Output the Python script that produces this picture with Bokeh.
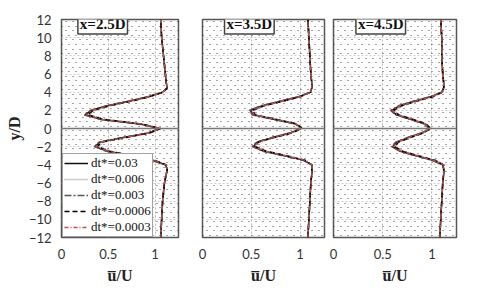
from bokeh.plotting import figure
from bokeh.models import Span, Label, Legend, LegendItem, FixedTicker, Grid
from bokeh.layouts import row
from bokeh.embed import file_html
from bokeh.resources import INLINE

# ---------------- data ----------------
y_d = [-12, -10, -8, -6, -5, -4.5, -4, -3.5, -3, -2.5, -2, -1.5, -1, -0.5, 0,
       0.5, 1, 1.5, 2, 2.5, 3, 3.5, 4, 4.5, 5, 6, 8, 10, 12]

dt_labels = ["dt*=0.03", "dt*=0.006", "dt*=0.003", "dt*=0.0006", "dt*=0.0003"]
panel_titles = ["x=2.5D", "x=3.5D", "x=4.5D"]
x_ticks = [0, 0.5, 1]
y_ticks = [-12, -10, -8, -6, -4, -2, 0, 2, 4, 6, 8, 10, 12]

# x = 2.5D
u25_a = [1.06, 1.07, 1.08, 1.10, 1.12, 1.13, 1.11, 0.97, 0.73, 0.49, 0.36, 0.41, 0.66, 0.93, 1.05,
         0.84, 0.43, 0.25, 0.32, 0.49, 0.72, 0.93, 1.08, 1.13, 1.12, 1.11, 1.09, 1.07, 1.06]
u25_b = [1.06, 1.07, 1.08, 1.10, 1.12, 1.13, 1.12, 1.00, 0.77, 0.53, 0.40, 0.44, 0.68, 0.94, 1.05,
         0.86, 0.47, 0.30, 0.36, 0.52, 0.75, 0.95, 1.09, 1.13, 1.12, 1.11, 1.09, 1.07, 1.06]
u25_c = [1.06, 1.07, 1.08, 1.10, 1.12, 1.13, 1.11, 0.96, 0.72, 0.48, 0.35, 0.40, 0.65, 0.92, 1.05,
         0.83, 0.42, 0.24, 0.31, 0.48, 0.71, 0.92, 1.08, 1.13, 1.12, 1.11, 1.09, 1.07, 1.06]
u25_d = [1.06, 1.07, 1.08, 1.10, 1.12, 1.13, 1.12, 0.99, 0.75, 0.51, 0.38, 0.43, 0.68, 0.94, 1.06,
         0.85, 0.45, 0.28, 0.34, 0.51, 0.74, 0.94, 1.09, 1.13, 1.12, 1.11, 1.09, 1.07, 1.06]
u25_e = [1.06, 1.07, 1.08, 1.10, 1.12, 1.13, 1.12, 0.98, 0.74, 0.50, 0.37, 0.42, 0.67, 0.93, 1.06,
         0.85, 0.44, 0.27, 0.33, 0.50, 0.73, 0.94, 1.08, 1.13, 1.12, 1.11, 1.09, 1.07, 1.06]

# x = 3.5D
u35_a = [1.08, 1.09, 1.10, 1.11, 1.12, 1.12, 1.12, 1.04, 0.84, 0.63, 0.52, 0.56, 0.72, 0.90, 1.01,
         0.96, 0.74, 0.52, 0.49, 0.61, 0.80, 0.99, 1.11, 1.12, 1.12, 1.11, 1.10, 1.09, 1.08]
u35_b = [1.08, 1.09, 1.10, 1.11, 1.12, 1.12, 1.12, 1.06, 0.87, 0.66, 0.55, 0.58, 0.74, 0.91, 1.01,
         0.97, 0.77, 0.55, 0.52, 0.64, 0.83, 1.01, 1.11, 1.12, 1.12, 1.11, 1.10, 1.09, 1.08]
u35_c = [1.08, 1.09, 1.10, 1.11, 1.12, 1.12, 1.12, 1.03, 0.83, 0.62, 0.51, 0.55, 0.71, 0.89, 1.00,
         0.95, 0.73, 0.51, 0.48, 0.60, 0.79, 0.98, 1.10, 1.12, 1.12, 1.11, 1.10, 1.09, 1.08]
u35_d = [1.08, 1.09, 1.10, 1.11, 1.12, 1.12, 1.12, 1.05, 0.86, 0.65, 0.54, 0.57, 0.73, 0.91, 1.02,
         0.97, 0.76, 0.54, 0.51, 0.63, 0.82, 1.00, 1.11, 1.12, 1.12, 1.11, 1.10, 1.09, 1.08]
u35_e = [1.08, 1.09, 1.10, 1.11, 1.12, 1.12, 1.12, 1.05, 0.85, 0.64, 0.53, 0.57, 0.73, 0.90, 1.01,
         0.96, 0.75, 0.53, 0.50, 0.62, 0.81, 1.00, 1.11, 1.12, 1.12, 1.11, 1.10, 1.09, 1.08]

# x = 4.5D
u45_a = [1.08, 1.09, 1.10, 1.11, 1.12, 1.12, 1.11, 1.01, 0.84, 0.68, 0.60, 0.64, 0.76, 0.90, 0.98,
         0.93, 0.79, 0.64, 0.59, 0.67, 0.82, 0.99, 1.10, 1.12, 1.12, 1.11, 1.10, 1.10, 1.09]
u45_b = [1.08, 1.09, 1.10, 1.11, 1.12, 1.12, 1.12, 1.04, 0.87, 0.71, 0.63, 0.66, 0.78, 0.91, 0.98,
         0.94, 0.81, 0.67, 0.62, 0.70, 0.85, 1.01, 1.11, 1.12, 1.12, 1.11, 1.10, 1.10, 1.09]
u45_c = [1.08, 1.09, 1.10, 1.11, 1.12, 1.12, 1.11, 1.00, 0.83, 0.67, 0.59, 0.63, 0.75, 0.89, 0.97,
         0.92, 0.78, 0.63, 0.58, 0.66, 0.81, 0.98, 1.10, 1.12, 1.12, 1.11, 1.10, 1.10, 1.09]
u45_d = [1.08, 1.09, 1.10, 1.11, 1.12, 1.12, 1.12, 1.03, 0.86, 0.70, 0.62, 0.66, 0.78, 0.91, 0.99,
         0.94, 0.81, 0.66, 0.61, 0.69, 0.84, 1.01, 1.11, 1.12, 1.12, 1.11, 1.10, 1.10, 1.09]
u45_e = [1.08, 1.09, 1.10, 1.11, 1.12, 1.12, 1.12, 1.02, 0.85, 0.69, 0.61, 0.65, 0.77, 0.90, 0.98,
         0.93, 0.80, 0.65, 0.60, 0.68, 0.83, 1.00, 1.11, 1.12, 1.12, 1.11, 1.10, 1.10, 1.09]

panel_series = [
    [u25_a, u25_b, u25_c, u25_d, u25_e],
    [u35_a, u35_b, u35_c, u35_d, u35_e],
    [u45_a, u45_b, u45_c, u45_d, u45_e],
]

# ---------------- styles ----------------
line_styles = [
    dict(line_color="#111111", line_dash="solid", line_width=1.5),
    dict(line_color="#9a9a9a", line_dash="1 1", line_width=1.5),
    dict(line_color="#555555", line_dash="7 2 2 2", line_width=1.5),
    dict(line_color="#000000", line_dash="5 3", line_width=1.5),
    dict(line_color="#cc4a4a", line_dash="4 2 1 2", line_width=1.3),
]

SERIF = "Liberation Serif"
SANS = "Lato"

# background dot texture rows (two staggered sets, in y/D units)
dot_rows_a = [k + 0.25 for k in range(-12, 12)]
dot_rows_b = [k + 0.75 for k in range(-12, 12)]

frame_widths = [117, 122, 123]
borders = [(61, 12), (12, 4), (5, 14)]
title_x = [0.44, 0.48, 0.48]

figs = []
for i in range(3):
    bl, br = borders[i]
    p = figure(frame_width=frame_widths[i], frame_height=218,
               x_range=(0, 1.25), y_range=(-12, 12),
               output_backend="svg", toolbar_location=None,
               min_border_left=bl, min_border_right=br,
               min_border_top=19, min_border_bottom=53,
               background_fill_color="white", border_fill_color="white")
    p.outline_line_color = "#555555"
    p.outline_line_width = 1.5

    # regular gridlines; minor ticks of the y grid carry the first row set of dots
    p.xgrid.ticker = FixedTicker(ticks=[0.5, 1])
    p.ygrid.ticker = FixedTicker(ticks=y_ticks, minor_ticks=dot_rows_a)
    p.xgrid.grid_line_color = "#b8b8b8"
    p.ygrid.grid_line_color = "#cfcfcf"
    p.xgrid.grid_line_dash = "2 2"
    p.ygrid.grid_line_dash = "2 2"
    p.ygrid.minor_grid_line_color = "#000000"
    p.ygrid.minor_grid_line_alpha = 0.7
    p.ygrid.minor_grid_line_width = 1.1
    p.ygrid.minor_grid_line_dash = "1 6"
    p.ygrid.minor_grid_line_dash_offset = 0

    g2 = Grid(dimension=1, ticker=FixedTicker(ticks=[0], minor_ticks=dot_rows_b),
              grid_line_color=None,
              minor_grid_line_color="#000000", minor_grid_line_alpha=0.7,
              minor_grid_line_width=1.1, minor_grid_line_dash="1 6",
              minor_grid_line_dash_offset=3)
    p.add_layout(g2)

    p.add_layout(Span(location=0, dimension="width", line_color="#777777", line_width=1.5))

    renderers = []
    for j, u in enumerate(panel_series[i]):
        r = p.line(x=u, y=y_d, **line_styles[j])
        renderers.append(r)

    # x axis
    p.xaxis.ticker = FixedTicker(ticks=x_ticks)
    p.xaxis.major_label_overrides = {0: "0", 0.5: "0.5", 1: "1"}
    p.xaxis.axis_line_color = None
    p.xaxis.major_tick_line_color = None
    p.xaxis.minor_tick_line_color = None
    p.xaxis.major_tick_out = 0
    p.xaxis.major_tick_in = 0
    p.xaxis.minor_tick_out = 0
    p.xaxis.major_label_standoff = 11
    p.xaxis.major_label_text_font = SANS
    p.xaxis.major_label_text_font_size = "13px"
    p.xaxis.major_label_text_color = "#333333"
    p.xaxis.axis_label = "u\u0305/U"
    p.xaxis.axis_label_text_font = SERIF
    p.xaxis.axis_label_text_font_style = "bold"
    p.xaxis.axis_label_text_font_size = "16px"
    p.xaxis.axis_label_text_color = "#222222"
    p.xaxis.axis_label_standoff = 5

    if i == 0:
        p.yaxis.ticker = FixedTicker(ticks=y_ticks)
        p.yaxis.axis_line_color = None
        p.yaxis.major_tick_line_color = None
        p.yaxis.minor_tick_line_color = None
        p.yaxis.major_tick_out = 0
        p.yaxis.major_tick_in = 0
        p.yaxis.minor_tick_out = 0
        p.yaxis.major_label_standoff = 10
        p.yaxis.major_label_text_font = SANS
        p.yaxis.major_label_text_font_size = "13px"
        p.yaxis.major_label_text_color = "#333333"
        p.yaxis.axis_label = "y/D"
        p.yaxis.axis_label_text_font = SERIF
        p.yaxis.axis_label_text_font_style = "bold"
        p.yaxis.axis_label_text_font_size = "16px"
        p.yaxis.axis_label_text_color = "#222222"
        p.yaxis.axis_label_standoff = 3

        legend = Legend(items=[LegendItem(label=dt_labels[j], renderers=[renderers[j]])
                               for j in range(5)],
                        location=(1, 0), orientation="vertical",
                        label_text_font=SERIF, label_text_font_size="13px",
                        label_text_color="#111111",
                        label_height=10, glyph_height=10, glyph_width=24,
                        label_standoff=3, spacing=0, padding=1, margin=0,
                        border_line_color="#444444", border_line_width=1.5,
                        background_fill_color="white", background_fill_alpha=1)
        p.add_layout(legend)
    else:
        p.yaxis.visible = False

    p.add_layout(Label(x=title_x[i], y=11.5, text=panel_titles[i],
                       text_font=SERIF, text_font_style="bold", text_font_size="15px",
                       text_color="#111111", text_align="center", text_baseline="middle",
                       background_fill_color="white", background_fill_alpha=1,
                       border_line_color="#444444", border_line_width=1.5,
                       padding=2))
    figs.append(p)

layout = row(*figs, spacing=0)
open("out.html", "w").write(file_html(layout, INLINE))
